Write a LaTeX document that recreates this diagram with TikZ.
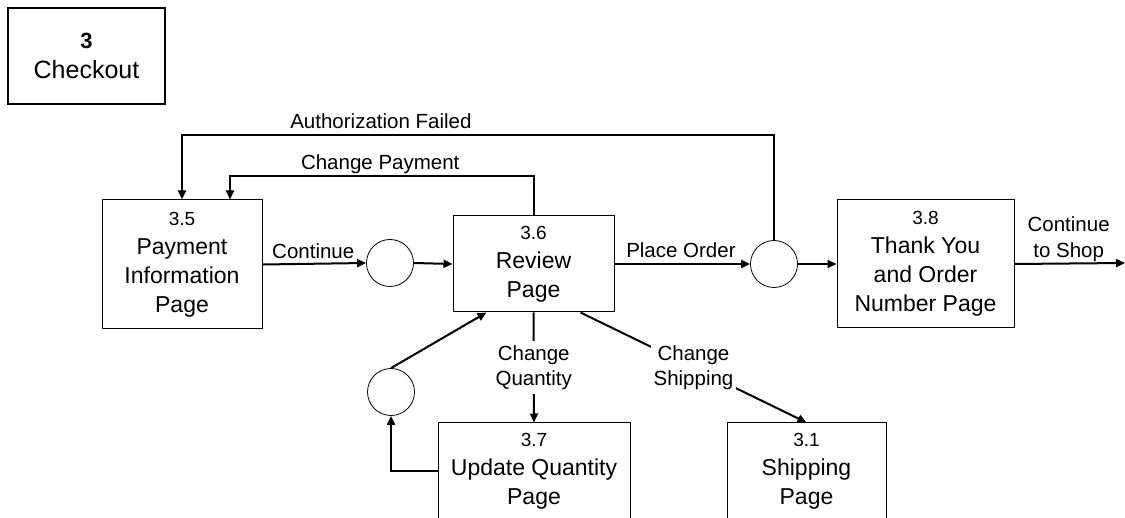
\documentclass[tikz,border=0pt]{standalone}
\usepackage{fontspec}
\setmainfont{Liberation Sans}
\usetikzlibrary{arrows.meta}
\newcommand{\boxnum}{\fontsize{19}{29}\selectfont}

\begin{document}
\begin{tikzpicture}[
        x=1pt, y=-1pt,
        page/.style={draw, line width=1pt, align=center, inner sep=0pt,
            font=\fontsize{23}{29}\selectfont},
        junction/.style={draw, circle, line width=0.8pt, minimum size=47pt, inner sep=0pt},
        flow/.style={line width=2pt, -{Triangle[length=9pt,width=8pt]}},
        lbl/.style={font=\fontsize{20.5}{25.5}\selectfont, inner sep=1pt, align=center}
        ]

        \useasboundingbox (0,0) rectangle (1125,518);
        \clip (0,0) rectangle (1125,518);

        % Title box
        \node[draw, line width=2.5pt, minimum width=157pt, minimum height=96pt,
            align=center, font=\fontsize{25}{30}\selectfont] (checkout) at (86.5,56)
            {{\fontsize{22}{30}\selectfont\bfseries 3}\\Checkout};

        % Pages
        \node[page, minimum width=160pt, minimum height=129pt] (pay) at (182,264.5)
            {{\boxnum 3.5}\\Payment\\Information\\Page};
        \node[page, minimum width=161pt, minimum height=96pt] (review) at (533.5,264)
            {{\boxnum 3.6}\\Review\\Page};
        \node[page, minimum width=177pt, minimum height=128pt] (thanks) at (925.5,264)
            {{\boxnum 3.8}\\Thank You\\and Order\\Number Page};
        \node[page, minimum width=192pt, minimum height=96pt] (upd) at (534,471)
            {{\boxnum 3.7}\\Update Quantity\\Page};
        \node[page, minimum width=159pt, minimum height=96pt] (ship) at (806.5,471)
            {{\boxnum 3.1}\\Shipping\\Page};

        % Junctions
        \node[junction] (c1) at (390,263) {};
        \node[junction] (c2) at (774,264) {};
        \node[junction] (c3) at (391,392) {};

        \coordinate (shop) at (1125,263);

        % Flows
        \draw[flow] (pay.east) -- (c1.west) node[lbl, pos=0.49, above=3pt] {Continue};
        \draw[flow] (c1.east) -- (review.west);
        \draw[flow] (review.east) -- (c2.west) node[lbl, pos=0.49, above=4pt] {Place Order};
        \draw[flow] (c2.east) -- (thanks.west);
        \draw[flow] (thanks.east) -- (shop) node[lbl, pos=0.49, above=0pt] {Continue\\to Shop};

        \draw[flow, line width=2.6pt] (c2.north) -- (c2.north |- 0,135) -| (pay.north)
            node[lbl, pos=0.332, above=4pt] {Authorization Failed};
        \draw[flow] (review.north) -- (review.north |- 0,176) -| ([xshift=48pt]pay.north)
            node[lbl, pos=0.2525, above=0pt] {Change Payment};

        \draw[flow] (review.south) -- (upd.north)
            node[lbl, midway, fill=white, inner sep=4pt] {Change\\Quantity};
        \draw[flow] ([xshift=-34pt]review.south east) -- (ship.north)
            node[lbl, midway, fill=white, inner sep=3pt] {Change\\Shipping};

        \draw[flow] (upd.west) -| (c3.south);
        \draw[flow] (c3.north) -- ([xshift=34pt]review.south west);
    \end{tikzpicture}
\end{document}
